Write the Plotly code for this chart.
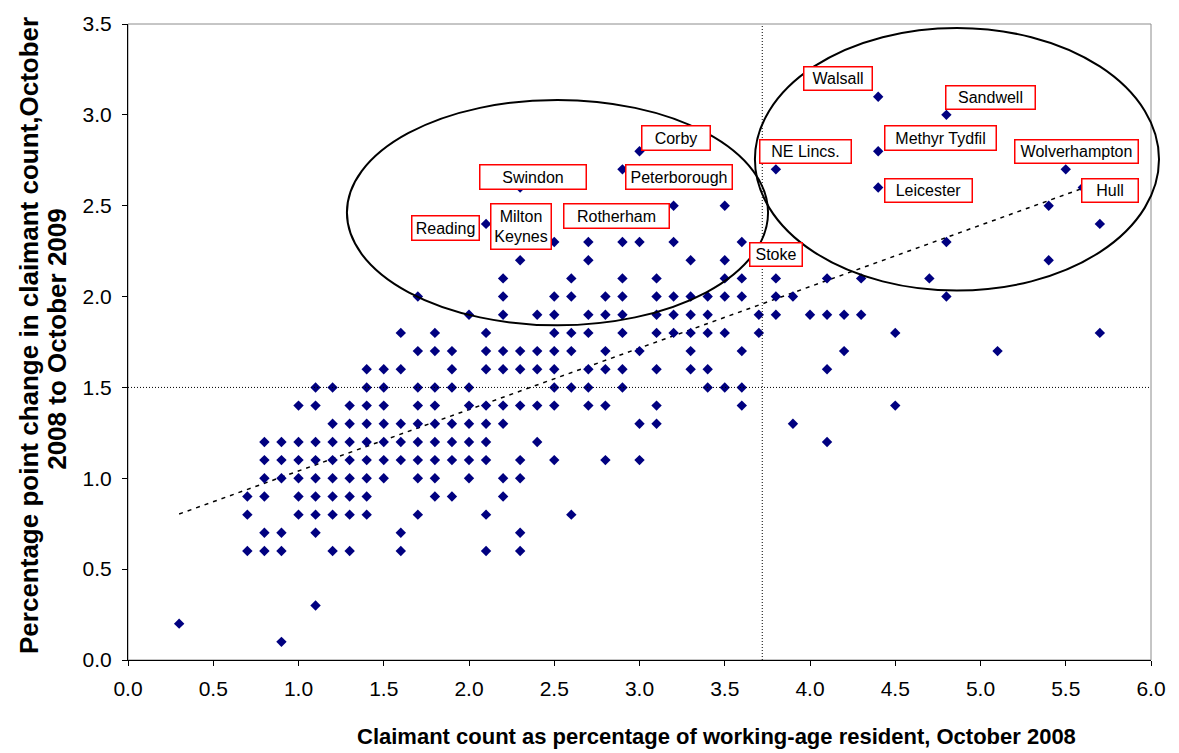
import numpy as np
import plotly.graph_objects as go

# Claimant count as % of working-age residents, Oct 2008 (x) and
# percentage-point change Oct 2008 -> Oct 2009 (y), one entry per area.
claimant_rate_2008 = (
    [0.3]
    + [0.7] * 3
    + [0.8] * 6
    + [0.9] * 6
    + [1.0] * 6
    + [1.1] * 9
    + [1.2] * 8
    + [1.3] * 8
    + [1.4] * 9
    + [1.5] * 7
    + [1.6] * 7
    + [1.7] * 9
    + [1.8] * 9
    + [1.9] * 7
    + [2.0] * 7
    + [2.1] * 10
    + [2.2] * 9
    + [2.3] * 9
    + [2.4] * 5
    + [2.5] * 9
    + [2.6] * 6
    + [2.7] * 7
    + [2.8] * 6
    + [2.9] * 8
    + [3.0] * 5
    + [3.1] * 7
    + [3.2] * 5
    + [3.3] * 6
    + [3.4] * 5
    + [3.5] * 6
    + [3.6] * 6
    + [3.7] * 2
    + [3.8] * 4
    + [3.9] * 2
    + [4.0] * 1
    + [4.1] * 4
    + [4.2] * 2
    + [4.3] * 2
    + [4.4] * 3
    + [4.5] * 2
    + [4.7] * 1
    + [4.8] * 3
    + [5.1] * 1
    + [5.4] * 2
    + [5.5] * 1
    + [5.6] * 1
    + [5.7] * 2
)

change_2008_2009 = [
    0.2,
    0.9, 0.8, 0.6,
    1.2, 1.1, 1.0, 0.9, 0.7, 0.6,
    1.2, 1.1, 1.0, 0.7, 0.6, 0.1,
    1.4, 1.2, 1.1, 1.0, 0.9, 0.8,
    1.5, 1.4, 1.2, 1.1, 1.0, 0.9, 0.8, 0.7, 0.3,
    1.5, 1.3, 1.2, 1.1, 1.0, 0.9, 0.8, 0.6,
    1.4, 1.3, 1.2, 1.1, 1.0, 0.9, 0.8, 0.6,
    1.6, 1.5, 1.4, 1.3, 1.2, 1.1, 1.0, 0.9, 0.8,
    1.6, 1.5, 1.4, 1.3, 1.2, 1.1, 1.0,
    1.8, 1.6, 1.3, 1.2, 1.1, 0.7, 0.6,
    2.0, 1.7, 1.5, 1.4, 1.3, 1.2, 1.1, 1.0, 0.8,
    1.8, 1.7, 1.5, 1.4, 1.3, 1.2, 1.1, 1.0, 0.9,
    1.7, 1.6, 1.5, 1.3, 1.2, 1.1, 0.9,
    1.9, 1.5, 1.4, 1.3, 1.2, 1.1, 1.0,
    2.4, 1.8, 1.7, 1.6, 1.4, 1.3, 1.2, 1.1, 0.8, 0.6,
    2.1, 2.0, 1.9, 1.7, 1.6, 1.4, 1.3, 1.0, 0.9,
    2.6, 2.2, 1.7, 1.6, 1.4, 1.1, 1.0, 0.7, 0.6,
    1.9, 1.7, 1.6, 1.4, 1.2,
    2.3, 2.0, 1.9, 1.8, 1.7, 1.6, 1.5, 1.4, 1.1,
    2.1, 2.0, 1.8, 1.7, 1.5, 0.8,
    2.3, 2.2, 1.9, 1.8, 1.6, 1.5, 1.4,
    2.0, 1.9, 1.7, 1.6, 1.4, 1.1,
    2.7, 2.3, 2.1, 2.0, 1.9, 1.8, 1.6, 1.5,
    2.8, 2.3, 1.7, 1.3, 1.1,
    2.1, 2.0, 1.9, 1.8, 1.6, 1.4, 1.3,
    2.5, 2.3, 2.0, 1.9, 1.8,
    2.2, 2.0, 1.9, 1.8, 1.7, 1.6,
    2.0, 1.9, 1.8, 1.6, 1.5,
    2.5, 2.2, 2.1, 2.0, 1.8, 1.5,
    2.3, 2.1, 2.0, 1.7, 1.5, 1.4,
    1.9, 1.8,
    2.7, 2.1, 2.0, 1.9,
    2.0, 1.3,
    1.9,
    2.1, 1.9, 1.6, 1.2,
    1.9, 1.7,
    2.1, 1.9,
    3.1, 2.8, 2.6,
    1.8, 1.4,
    2.1,
    3.0, 2.3, 2.0,
    1.7,
    2.5, 2.2,
    2.7,
    2.6,
    2.4, 1.8,
]

# Named areas
place_names = ["Walsall", "Sandwell", "Methyr Tydfil", "NE Lincs.", "Wolverhampton",
               "Leicester", "Hull", "Stoke", "Corby", "Swindon", "Peterborough",
               "Reading", "Milton<br>Keynes", "Rotherham"]
place_rate = [4.4, 4.8, 4.4, 3.8, 5.5, 4.4, 5.6, 3.6, 3.0, 2.3, 2.9, 2.1, 2.5, 3.2]
place_change = [3.1, 3.0, 2.8, 2.7, 2.7, 2.6, 2.6, 2.3, 2.8, 2.6, 2.7, 2.4, 2.3, 2.5]

# National reference values (dotted cross-hairs)
gb_rate = 3.72
gb_change = 1.5

X_MAX, Y_MAX = 6.0, 3.5

# Label box placement: (xshift px, yshift px, box width px, box height px)
label_style = {
    "Walsall": (-40, 18, 70, 25),
    "Sandwell": (44, 17, 91, 25),
    "Methyr Tydfil": (62, 13, 113, 26),
    "NE Lincs.": (30, 18, 93, 25),
    "Wolverhampton": (11, 18, 125, 25),
    "Leicester": (50, -3, 89, 25),
    "Hull": (27, -3, 58, 25),
    "Stoke": (34, -12, 54, 25),
    "Corby": (36, 13, 70, 26),
    "Swindon": (13, 11, 108, 26),
    "Peterborough": (57, -8, 108, 26),
    "Reading": (-41, -4, 69, 26),
    "Milton<br>Keynes": (-33, 16, 62, 47),
    "Rotherham": (-57, -10, 107, 26),
}

FONT = "Arial, Liberation Sans, sans-serif"
BORDER = 1.5
PAD = 2

x = np.array(claimant_rate_2008)
y = np.array(change_2008_2009)
slope, intercept = np.polyfit(x, y, 1)
trend_x = np.array([x.min(), x.max()])
trend_y = slope * trend_x + intercept

fig = go.Figure()

fig.add_trace(go.Scatter(
    x=trend_x, y=trend_y, mode="lines",
    line=dict(color="black", width=1.5, dash="4px,5px"),
    hoverinfo="skip", showlegend=False,
))

fig.add_trace(go.Scatter(
    x=x, y=y, mode="markers",
    marker=dict(symbol="diamond", size=8, color="#000080", line=dict(width=0)),
    showlegend=False,
))

shapes = [
    # plot frame
    dict(type="rect", xref="paper", yref="paper", x0=0, x1=1, y0=0, y1=1,
         line=dict(color="#8c8c8c", width=1), layer="below"),
    # national average cross-hairs
    dict(type="line", xref="x", yref="y", x0=gb_rate, x1=gb_rate, y0=0, y1=Y_MAX,
         line=dict(color="black", width=1, dash="1px,2px")),
    dict(type="line", xref="x", yref="y", x0=0, x1=X_MAX, y0=gb_change, y1=gb_change,
         line=dict(color="black", width=1, dash="1px,2px")),
    # cluster outlines
    dict(type="circle", xref="x", yref="y", x0=1.284, x1=3.754, y0=1.842, y1=3.082,
         line=dict(color="black", width=2)),
    dict(type="circle", xref="paper", yref="y", x0=3.677 / X_MAX, x1=6.047 / X_MAX,
         y0=2.033, y1=3.478, line=dict(color="black", width=2)),
]

annotations = []
for name, px, py in zip(place_names, place_rate, place_change):
    dx, dy, w, h = label_style[name]
    inset = 2 * (BORDER + PAD)
    annotations.append(dict(
        x=px, y=py, xref="x", yref="y", text=name, showarrow=False,
        xanchor="center", yanchor="middle", xshift=dx, yshift=dy,
        width=w - inset, height=h - inset, align="center", valign="middle",
        bgcolor="white", bordercolor="#ff0000", borderwidth=BORDER, borderpad=PAD,
        font=dict(family=FONT, size=16, color="black"),
    ))

annotations.append(dict(
    text="Claimant count as percentage of working-age resident, October 2008",
    xref="paper", yref="paper", x=0.5748, y=-0.121, showarrow=False,
    xanchor="center", yanchor="middle",
    font=dict(family=FONT, size=22, color="black", weight="bold"),
))
# y-axis title, one annotation per line
for line_text, lx, ly in [
    ("Percentage point change in claimant count,October", -0.0968, 0.511),
    ("2008 to October 2009", -0.0694, 0.505),
]:
    annotations.append(dict(
        text=line_text, xref="paper", yref="paper", x=lx, y=ly, showarrow=False,
        xanchor="center", yanchor="middle", textangle=-90,
        font=dict(family=FONT, size=26, color="black", weight="bold"),
    ))

axis_common = dict(
    showgrid=False, zeroline=False, showline=True, linecolor="black", linewidth=1,
    ticks="outside", ticklen=5, tickcolor="black", tickwidth=1,
    tickformat=".1f", tickfont=dict(family=FONT, size=21, color="black"),
)

fig.update_layout(
    width=1179, height=753,
    margin=dict(l=128, r=28, t=16, b=93),
    paper_bgcolor="white", plot_bgcolor="white",
    xaxis=dict(range=[0, X_MAX], tick0=0, dtick=0.5, ticklabelstandoff=5, **axis_common),
    yaxis=dict(range=[0, Y_MAX], tick0=0, dtick=0.5, ticklabelstandoff=6, **axis_common),
    shapes=shapes,
    annotations=annotations,
    showlegend=False,
)

fig.write_html("out.html")
